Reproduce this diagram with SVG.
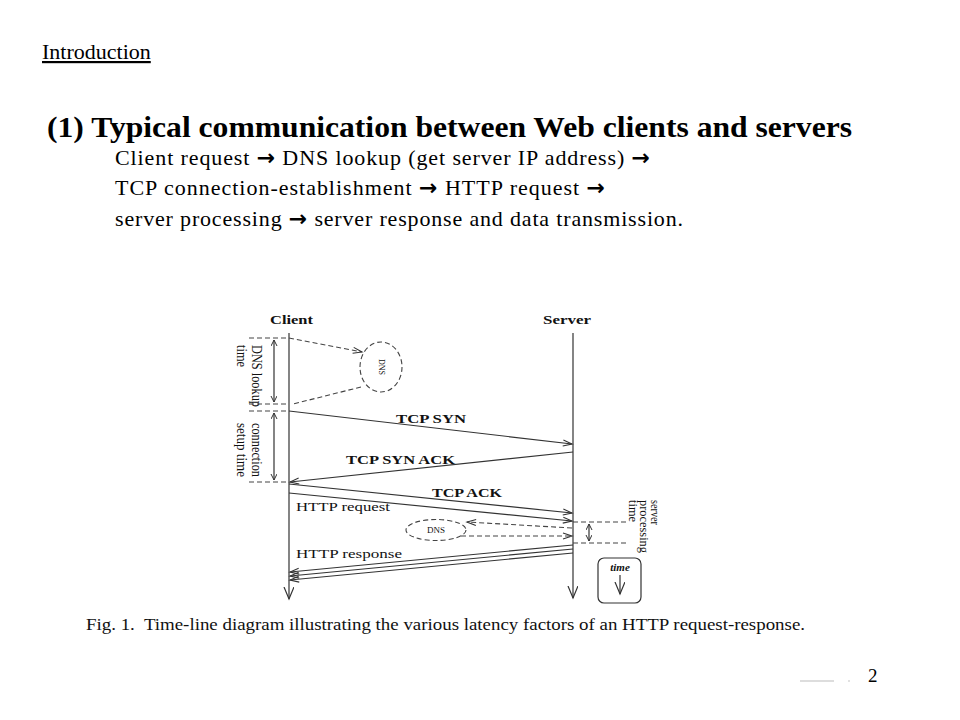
<svg xmlns="http://www.w3.org/2000/svg" width="960" height="720" viewBox="0 0 960 720">
<style>
  .hd { font-family: "Liberation Serif", "Times New Roman", serif; fill: #000; }
  .ar { font-family: "DejaVu Sans", sans-serif; font-weight: bold; }
  .fig { font-family: "Liberation Serif", "Times New Roman", serif; fill: #111; }
  .ln { stroke: #333; stroke-width: 1.2; fill: none; }
  .dash { stroke: #444; stroke-width: 1.1; fill: none; stroke-dasharray: 5 3; }
</style>
<defs>
  <marker id="ah" markerUnits="userSpaceOnUse" markerWidth="12" markerHeight="10" refX="10" refY="4" orient="auto">
    <path d="M1,1 L10,4 L1,7" fill="none" stroke="#333" stroke-width="1.1"/>
  </marker>
  <marker id="ahs" markerUnits="userSpaceOnUse" markerWidth="8" markerHeight="8" refX="6" refY="3" orient="auto-start-reverse">
    <path d="M0,0 L6,3 L0,6" fill="none" stroke="#333" stroke-width="1"/>
  </marker>
  <marker id="av" markerUnits="userSpaceOnUse" markerWidth="14" markerHeight="12" refX="12" refY="5" orient="auto">
    <path d="M0,0 L12,5 L0,10" fill="none" stroke="#333" stroke-width="1.2"/>
  </marker>
</defs>
<rect width="960" height="720" fill="#fff"/>

<g id="header">
  <text class="hd" x="42" y="59" font-size="22" text-decoration="underline">Introduction</text>
  <text class="hd" x="47" y="137" font-size="30" font-weight="bold" textLength="805" lengthAdjust="spacingAndGlyphs">(1) Typical communication between Web clients and servers</text>
  <text class="hd" x="115" y="165" font-size="22" textLength="535">Client request <tspan class="ar">→</tspan> DNS lookup (get server IP address) <tspan class="ar">→</tspan></text>
  <text class="hd" x="115" y="195" font-size="22" textLength="490">TCP connection-establishment <tspan class="ar">→</tspan> HTTP request <tspan class="ar">→</tspan></text>
  <text class="hd" x="115" y="226" font-size="22" textLength="568">server processing <tspan class="ar">→</tspan> server response and data transmission.</text>
</g>

<g id="client">
  <text class="fig" x="270" y="324" font-size="13" font-weight="bold" textLength="43" lengthAdjust="spacingAndGlyphs">Client</text>
  <line class="ln" x1="289" y1="333" x2="289" y2="599" marker-end="url(#av)"/>
</g>

<g id="server">
  <text class="fig" x="543" y="324" font-size="13" font-weight="bold" textLength="48" lengthAdjust="spacingAndGlyphs">Server</text>
  <line class="ln" x1="573" y1="333" x2="573" y2="598" marker-end="url(#av)"/>
</g>

<g id="dns-top">
  <ellipse class="dash" cx="381" cy="367" rx="21" ry="25"/>
  <text class="fig" transform="translate(381,367) rotate(90)" font-size="8" text-anchor="middle" dominant-baseline="central" font-family="Liberation Sans, Arial, sans-serif">DNS</text>
</g>

<g id="dns-lookup-time">
  <line class="dash" x1="249" y1="338" x2="289" y2="338"/>
  <line class="dash" x1="249" y1="404" x2="289" y2="404"/>
  <line class="ln" x1="274" y1="340" x2="274" y2="402" marker-start="url(#ahs)" marker-end="url(#ahs)"/>
  <text class="fig" transform="translate(252,345) rotate(90)" font-size="14" textLength="62" lengthAdjust="spacingAndGlyphs">DNS lookup</text>
  <text class="fig" transform="translate(237,345) rotate(90)" font-size="14" textLength="22" lengthAdjust="spacingAndGlyphs">time</text>
</g>

<g id="connection-setup-time">
  <line class="dash" x1="249" y1="411" x2="289" y2="411"/>
  <line class="dash" x1="249" y1="482" x2="289" y2="482"/>
  <line class="ln" x1="274" y1="413" x2="274" y2="480" marker-start="url(#ahs)" marker-end="url(#ahs)"/>
  <text class="fig" transform="translate(252,423) rotate(90)" font-size="14" textLength="54" lengthAdjust="spacingAndGlyphs">connection</text>
  <text class="fig" transform="translate(237,423) rotate(90)" font-size="14" textLength="54" lengthAdjust="spacingAndGlyphs">setup time</text>
</g>

<g id="dns-mid">
  <ellipse class="dash" cx="436" cy="530" rx="30" ry="10.5"/>
  <text class="fig" x="436" y="533" font-size="9" text-anchor="middle" font-family="Liberation Sans, Arial, sans-serif">DNS</text>
</g>

<g id="server-processing-time">
  <line class="dash" x1="573" y1="522" x2="627" y2="522"/>
  <line class="dash" x1="573" y1="543" x2="627" y2="543"/>
  <line class="ln" x1="589" y1="524" x2="589" y2="541" marker-start="url(#ahs)" marker-end="url(#ahs)"/>
  <text class="fig" transform="translate(651,500) rotate(90)" font-size="12" textLength="25" lengthAdjust="spacingAndGlyphs">server</text>
  <text class="fig" transform="translate(640,500) rotate(90)" font-size="12" textLength="53" lengthAdjust="spacingAndGlyphs">processing</text>
  <text class="fig" transform="translate(629,500) rotate(90)" font-size="12" textLength="22" lengthAdjust="spacingAndGlyphs">time</text>
</g>

<g id="time-legend">
  <rect x="598" y="558" width="43" height="45" rx="6" fill="none" stroke="#333" stroke-width="1.2"/>
  <text class="fig" x="620" y="571" font-size="11" font-weight="bold" font-style="italic" text-anchor="middle">time</text>
  <line class="ln" x1="620" y1="575" x2="620" y2="594" marker-end="url(#av)"/>
</g>

<g id="connectors">
  <line class="dash" x1="289" y1="338" x2="362" y2="352" marker-end="url(#ah)"/>
  <line class="dash" x1="361" y1="387" x2="293" y2="404"/>
  <line class="ln" x1="289" y1="411" x2="572" y2="444" marker-end="url(#ah)"/>
  <line class="ln" x1="573" y1="452" x2="290" y2="482" marker-end="url(#ah)"/>
  <line class="ln" x1="289" y1="484" x2="572" y2="513" marker-end="url(#ah)"/>
  <line class="ln" x1="289" y1="493" x2="572" y2="521" marker-end="url(#ah)"/>
  <line class="dash" x1="572" y1="528" x2="467" y2="522" marker-end="url(#ah)"/>
  <line class="dash" x1="461" y1="536" x2="572" y2="536" marker-end="url(#ah)"/>
  <line class="ln" x1="573" y1="545" x2="290" y2="572" marker-end="url(#ah)"/>
  <line class="ln" x1="573" y1="549" x2="290" y2="576" marker-end="url(#ah)"/>
  <line class="ln" x1="573" y1="553" x2="290" y2="580" marker-end="url(#ah)"/>
  <text class="fig" x="396" y="423" font-size="13" font-weight="bold" textLength="70" lengthAdjust="spacingAndGlyphs">TCP SYN</text>
  <text class="fig" x="346" y="464" font-size="13" font-weight="bold" textLength="109" lengthAdjust="spacingAndGlyphs">TCP SYN ACK</text>
  <text class="fig" x="432" y="497" font-size="13" font-weight="bold" textLength="70" lengthAdjust="spacingAndGlyphs">TCP ACK</text>
  <text class="fig" x="296" y="511" font-size="13" textLength="94" lengthAdjust="spacingAndGlyphs">HTTP request</text>
  <text class="fig" x="296" y="558" font-size="13" textLength="106" lengthAdjust="spacingAndGlyphs">HTTP response</text>
</g>

<g id="caption">
  <text class="fig" x="86" y="630" font-size="16" textLength="719" lengthAdjust="spacingAndGlyphs" style="white-space:pre">Fig. 1.  Time-line diagram illustrating the various latency factors of an HTTP request-response.</text>
</g>

<g id="footer">
  <line x1="800" y1="681" x2="834" y2="681" stroke="#bbb" stroke-width="1"/>
  <circle cx="849" cy="681" r="0.8" fill="#bbb"/>
  <text class="hd" x="868" y="682" font-size="19">2</text>
</g>
</svg>
